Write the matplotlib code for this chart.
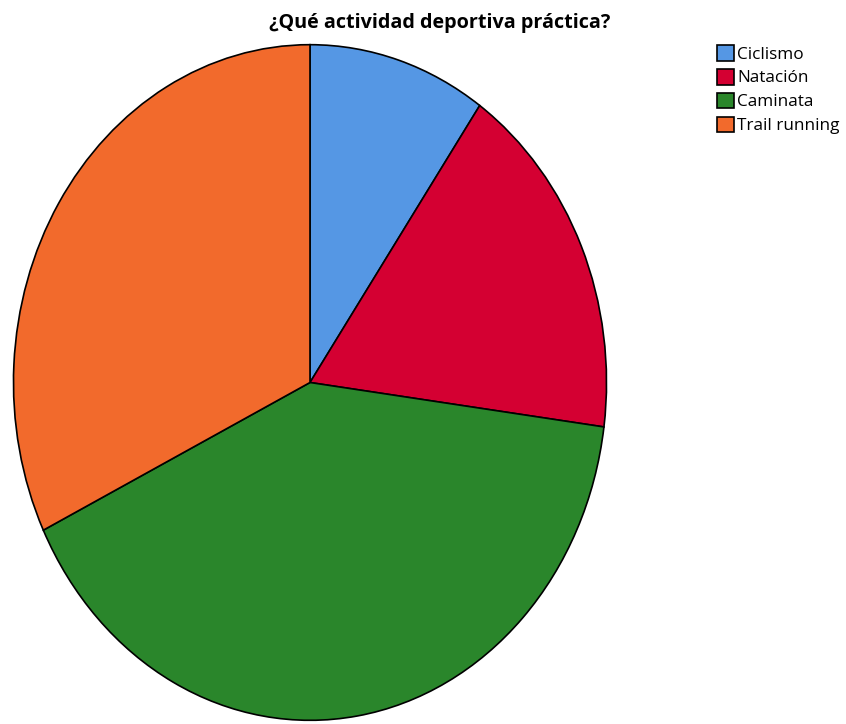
import matplotlib.pyplot as plt

# Data (percent of respondents)
labels = ['Ciclismo', 'Natación', 'Caminata', 'Trail running']
values = [9.7, 17.4, 40.7, 32.2]
colors = ['#5597e4', '#d40032', '#2a862b', '#f26a2c']

plt.rcParams['font.family'] = ['Open Sans', 'DejaVu Sans']

fig = plt.figure(figsize=(8.46, 7.24), dpi=100)

# pie is stretched vertically in the reference, so keep aspect auto
ax = fig.add_axes([12 / 846, 2 / 724, 596 / 846, 679 / 724])
wedges, _ = ax.pie(values, colors=colors, startangle=90, counterclock=False,
                   radius=1, wedgeprops=dict(edgecolor='black', linewidth=1.2))
ax.set_aspect('auto')
ax.set_xlim(-1.005, 1.005)
ax.set_ylim(-1.005, 1.005)

fig.text(440 / 846, 1 - 23 / 724, '¿Qué actividad deportiva práctica?',
         ha='center', va='center', fontsize=14.2, fontweight='bold')

leg = fig.legend(wedges, labels, loc='upper left',
                 bbox_to_anchor=(710 / 846, 1 - 38 / 724), frameon=False,
                 fontsize=12.3, handlelength=1.0, handleheight=1.05,
                 handletextpad=0.2, labelspacing=0.36, borderaxespad=0)

plt.savefig('out.png', dpi=100)
